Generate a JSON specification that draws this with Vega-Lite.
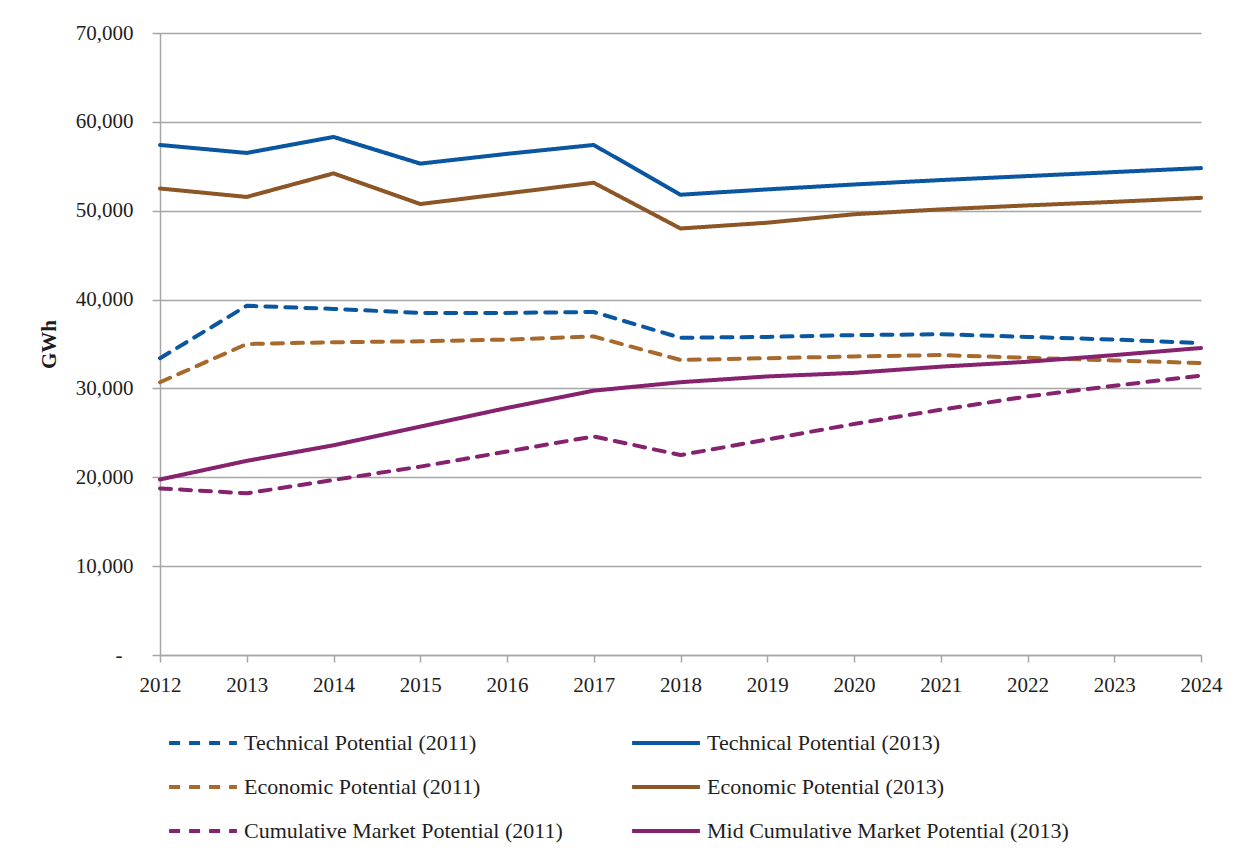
{
  "$schema": "https://vega.github.io/schema/vega-lite/v6.json",
  "width": 1041,
  "height": 622,
  "autosize": {"type": "none"},
  "padding": {"left": 160, "top": 33, "right": 40, "bottom": 207},
  "background": "white",
  "config": {
    "font": "Liberation Serif",
    "view": {"stroke": null},
    "axis": {
      "labelFont": "Liberation Serif",
      "labelFontSize": 21,
      "labelColor": "#1e1e1e",
      "domainColor": "#a6a6a6",
      "domainWidth": 1.5,
      "tickColor": "#a6a6a6",
      "tickWidth": 1.5,
      "gridColor": "#a6a6a6",
      "gridWidth": 1.5
    },
    "legend": {
      "labelFont": "Liberation Serif",
      "labelFontSize": 22,
      "labelColor": "#1e1e1e"
    }
  },
  "data": {
    "values": [
      {"year": 2012, "series": "Technical Potential (2011)", "value": 33400},
      {"year": 2013, "series": "Technical Potential (2011)", "value": 39300},
      {"year": 2014, "series": "Technical Potential (2011)", "value": 38950},
      {"year": 2015, "series": "Technical Potential (2011)", "value": 38500},
      {"year": 2016, "series": "Technical Potential (2011)", "value": 38500},
      {"year": 2017, "series": "Technical Potential (2011)", "value": 38600},
      {"year": 2018, "series": "Technical Potential (2011)", "value": 35700},
      {"year": 2019, "series": "Technical Potential (2011)", "value": 35800},
      {"year": 2020, "series": "Technical Potential (2011)", "value": 36000},
      {"year": 2021, "series": "Technical Potential (2011)", "value": 36100},
      {"year": 2022, "series": "Technical Potential (2011)", "value": 35800},
      {"year": 2023, "series": "Technical Potential (2011)", "value": 35500},
      {"year": 2024, "series": "Technical Potential (2011)", "value": 35100},
      {"year": 2012, "series": "Technical Potential (2013)", "value": 57400},
      {"year": 2013, "series": "Technical Potential (2013)", "value": 56500},
      {"year": 2014, "series": "Technical Potential (2013)", "value": 58300},
      {"year": 2015, "series": "Technical Potential (2013)", "value": 55300},
      {"year": 2016, "series": "Technical Potential (2013)", "value": 56400},
      {"year": 2017, "series": "Technical Potential (2013)", "value": 57400},
      {"year": 2018, "series": "Technical Potential (2013)", "value": 51800},
      {"year": 2019, "series": "Technical Potential (2013)", "value": 52400},
      {"year": 2020, "series": "Technical Potential (2013)", "value": 52950},
      {"year": 2021, "series": "Technical Potential (2013)", "value": 53450},
      {"year": 2022, "series": "Technical Potential (2013)", "value": 53900},
      {"year": 2023, "series": "Technical Potential (2013)", "value": 54350},
      {"year": 2024, "series": "Technical Potential (2013)", "value": 54800},
      {"year": 2012, "series": "Economic Potential (2011)", "value": 30700},
      {"year": 2013, "series": "Economic Potential (2011)", "value": 35000},
      {"year": 2014, "series": "Economic Potential (2011)", "value": 35200},
      {"year": 2015, "series": "Economic Potential (2011)", "value": 35300},
      {"year": 2016, "series": "Economic Potential (2011)", "value": 35500},
      {"year": 2017, "series": "Economic Potential (2011)", "value": 35850},
      {"year": 2018, "series": "Economic Potential (2011)", "value": 33200},
      {"year": 2019, "series": "Economic Potential (2011)", "value": 33400},
      {"year": 2020, "series": "Economic Potential (2011)", "value": 33600},
      {"year": 2021, "series": "Economic Potential (2011)", "value": 33750},
      {"year": 2022, "series": "Economic Potential (2011)", "value": 33450},
      {"year": 2023, "series": "Economic Potential (2011)", "value": 33150},
      {"year": 2024, "series": "Economic Potential (2011)", "value": 32850},
      {"year": 2012, "series": "Economic Potential (2013)", "value": 52500},
      {"year": 2013, "series": "Economic Potential (2013)", "value": 51550},
      {"year": 2014, "series": "Economic Potential (2013)", "value": 54200},
      {"year": 2015, "series": "Economic Potential (2013)", "value": 50750},
      {"year": 2016, "series": "Economic Potential (2013)", "value": 51950},
      {"year": 2017, "series": "Economic Potential (2013)", "value": 53150},
      {"year": 2018, "series": "Economic Potential (2013)", "value": 48000},
      {"year": 2019, "series": "Economic Potential (2013)", "value": 48650},
      {"year": 2020, "series": "Economic Potential (2013)", "value": 49600},
      {"year": 2021, "series": "Economic Potential (2013)", "value": 50150},
      {"year": 2022, "series": "Economic Potential (2013)", "value": 50600},
      {"year": 2023, "series": "Economic Potential (2013)", "value": 51000},
      {"year": 2024, "series": "Economic Potential (2013)", "value": 51450},
      {"year": 2012, "series": "Cumulative Market Potential (2011)", "value": 18750},
      {"year": 2013, "series": "Cumulative Market Potential (2011)", "value": 18200},
      {"year": 2014, "series": "Cumulative Market Potential (2011)", "value": 19700},
      {"year": 2015, "series": "Cumulative Market Potential (2011)", "value": 21200},
      {"year": 2016, "series": "Cumulative Market Potential (2011)", "value": 22900},
      {"year": 2017, "series": "Cumulative Market Potential (2011)", "value": 24600},
      {"year": 2018, "series": "Cumulative Market Potential (2011)", "value": 22500},
      {"year": 2019, "series": "Cumulative Market Potential (2011)", "value": 24250},
      {"year": 2020, "series": "Cumulative Market Potential (2011)", "value": 26000},
      {"year": 2021, "series": "Cumulative Market Potential (2011)", "value": 27600},
      {"year": 2022, "series": "Cumulative Market Potential (2011)", "value": 29100},
      {"year": 2023, "series": "Cumulative Market Potential (2011)", "value": 30300},
      {"year": 2024, "series": "Cumulative Market Potential (2011)", "value": 31450},
      {"year": 2012, "series": "Mid Cumulative Market Potential (2013)", "value": 19750},
      {"year": 2013, "series": "Mid Cumulative Market Potential (2013)", "value": 21850},
      {"year": 2014, "series": "Mid Cumulative Market Potential (2013)", "value": 23600},
      {"year": 2015, "series": "Mid Cumulative Market Potential (2013)", "value": 25700},
      {"year": 2016, "series": "Mid Cumulative Market Potential (2013)", "value": 27800},
      {"year": 2017, "series": "Mid Cumulative Market Potential (2013)", "value": 29750},
      {"year": 2018, "series": "Mid Cumulative Market Potential (2013)", "value": 30700},
      {"year": 2019, "series": "Mid Cumulative Market Potential (2013)", "value": 31350},
      {"year": 2020, "series": "Mid Cumulative Market Potential (2013)", "value": 31750},
      {"year": 2021, "series": "Mid Cumulative Market Potential (2013)", "value": 32450},
      {"year": 2022, "series": "Mid Cumulative Market Potential (2013)", "value": 33000},
      {"year": 2023, "series": "Mid Cumulative Market Potential (2013)", "value": 33750},
      {"year": 2024, "series": "Mid Cumulative Market Potential (2013)", "value": 34550}
    ]
  },
  "mark": {"type": "line", "strokeWidth": 4, "strokeCap": "round", "strokeJoin": "round"},
  "encoding": {
    "x": {
      "field": "year",
      "type": "quantitative",
      "scale": {"domain": [2012, 2024], "nice": false, "zero": false},
      "axis": {
        "title": null,
        "values": [2012, 2013, 2014, 2015, 2016, 2017, 2018, 2019, 2020, 2021, 2022, 2023, 2024],
        "format": "d",
        "grid": false,
        "tickSize": 7,
        "labelPadding": 12,
        "labelFlush": false
      }
    },
    "y": {
      "field": "value",
      "type": "quantitative",
      "scale": {"domain": [0, 70000], "nice": false},
      "axis": {
        "title": "GWh",
        "titleFont": "Liberation Serif",
        "titleFontSize": 21,
        "titleFontWeight": "bold",
        "titleColor": "#1e1e1e",
        "titlePadding": 16,
        "values": [0, 10000, 20000, 30000, 40000, 50000, 60000, 70000],
        "labelExpr": "datum.value === 0 ? '-' : format(datum.value, ',')",
        "tickSize": 8,
        "labelPadding": {"condition": {"test": "datum.value === 0", "value": 30}, "value": 19},
        "grid": true
      }
    },
    "color": {
      "field": "series",
      "type": "nominal",
      "scale": {
        "domain": ["Technical Potential (2011)", "Economic Potential (2011)", "Cumulative Market Potential (2011)", "Technical Potential (2013)", "Economic Potential (2013)", "Mid Cumulative Market Potential (2013)"],
        "range": ["#0b56a0", "#a8692c", "#86236e", "#0b56a0", "#8c5627", "#86226e"]
      },
      "legend": {
        "title": null,
        "orient": "none",
        "legendX": 7,
        "legendY": 699,
        "columns": 2,
        "columnPadding": 67,
        "rowPadding": 22,
        "clipHeight": 22,
        "padding": 0,
        "symbolType": "stroke",
        "symbolSize": 4600,
        "symbolStrokeWidth": 4,
        "labelOffset": 5,
        "labelLimit": 600
      }
    },
    "strokeDash": {
      "field": "series",
      "type": "nominal",
      "scale": {
        "domain": ["Technical Potential (2011)", "Economic Potential (2011)", "Cumulative Market Potential (2011)", "Technical Potential (2013)", "Economic Potential (2013)", "Mid Cumulative Market Potential (2013)"],
        "range": [[11, 9], [11, 9], [11, 9], [1, 0], [1, 0], [1, 0]]
      },
      "legend": {
        "title": null,
        "orient": "none",
        "legendX": 7,
        "legendY": 699,
        "columns": 2,
        "columnPadding": 67,
        "rowPadding": 22,
        "clipHeight": 22,
        "padding": 0,
        "symbolType": "stroke",
        "symbolSize": 4600,
        "symbolStrokeWidth": 4,
        "labelOffset": 5,
        "labelLimit": 600
      }
    }
  }
}
